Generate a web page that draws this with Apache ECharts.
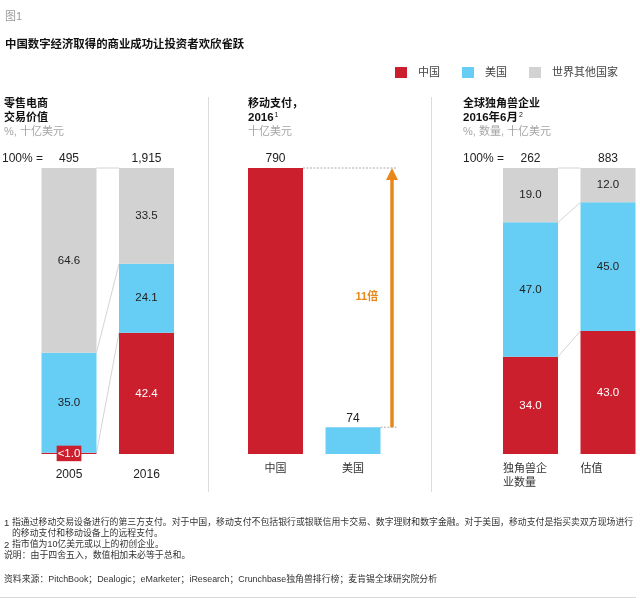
<!DOCTYPE html>
<html><head><meta charset="utf-8">
<style>html,body{margin:0;padding:0;background:#fff}#c{width:640px;height:598px}</style>
<script src="https://cdn.jsdelivr.net/npm/echarts@6/dist/echarts.min.js"></script>
</head><body><div id="c"></div>
<script>
// ---- data ----
var retailCats = ['2005', '2016'];
var retailTotals = ['495', '1,915'];
var retailChina = [0.4, 42.4];
var retailUS = [35.0, 24.1];
var retailRest = [64.6, 33.5];

var payCats = ['中国', '美国'];
var payChina = [790, null];
var payUS = [null, 74];

var uniCats = ['独角兽企\n业数量', '估值'];
var uniTotals = ['262', '883'];
var uniChina = [34.0, 43.0];
var uniUS = [47.0, 45.0];
var uniRest = [19.0, 12.0];

var seriesNames = ['中国', '美国', '世界其他国家'];

// ---- style ----
var RED = '#CB1F2E', BLUE = '#66CDF5', GREY = '#D2D2D2', ORANGE = '#E8881A';
var FONT = '"Liberation Sans","Noto Sans CJK SC",sans-serif';
var BAR_W = 55;

function cum(a, b, c) {
  return a.map(function (v, i) { return [v, v + b[i], v + b[i] + c[i]]; });
}
function grid(left) { return { left: left, width: 155, top: 168, height: 286, outerBoundsMode: 'none' }; }
function bar(name, idx, data, color, labelColor, fmt) {
  return {
    type: 'bar', name: name, stack: 's' + idx, xAxisIndex: idx, yAxisIndex: idx,
    data: data, barWidth: BAR_W, z: 3,
    itemStyle: { color: color },
    label: { show: true, position: 'inside', color: labelColor, fontSize: 11.5, fontFamily: FONT,
      formatter: fmt || function (p) { return Number(p.value).toFixed(1); } }
  };
}
function connectors(idx, stacks) {
  // one row per pair of boundaries between the two columns
  var rows = stacks[0].map(function (v, i) { return [v, stacks[1][i]]; });
  return {
    type: 'custom', xAxisIndex: idx, yAxisIndex: idx, z: 1, silent: true, clip: false,
    data: rows, encode: { y: [0, 1] },
    renderItem: function (params, api) {
      var a = api.coord([0, api.value(0)]), b = api.coord([1, api.value(1)]);
      return { type: 'line', shape: { x1: a[0] + BAR_W / 2, y1: a[1], x2: b[0] - BAR_W / 2, y2: b[1] },
        style: { stroke: '#d4d4d4', lineWidth: 1 } };
    }
  };
}
function text(x, y, t, size, color, bold, extra) {
  var s = { x: x, y: y, text: t, fontSize: size, fontFamily: FONT, fill: color,
    fontWeight: bold ? 'bold' : 'normal', verticalAlign: 'middle', align: 'left' };
  if (extra) for (var k in extra) s[k] = extra[k];
  return { type: 'text', style: s, z: 10 };
}
function divider(x) {
  return { type: 'line', shape: { x1: x, y1: 97, x2: x, y2: 492 }, style: { stroke: '#dcdcdc', lineWidth: 1 } };
}

var DARK = '#222', MUTED = '#a5a5a5', SUP = { sup: { fontSize: 7, fontWeight: 'normal', padding: [0, 0, 5, 1] } };

var retailStacks = cum(retailChina, retailUS, retailRest);
var uniStacks = cum(uniChina, uniUS, uniRest);

var option = {
  animation: false,
  backgroundColor: '#fff',
  textStyle: { fontFamily: FONT },
  grid: [grid(30.25), grid(236.75), grid(491.75)],
  legend: {
    left: 395, top: 67, padding: 0, itemWidth: 12, itemHeight: 11, itemGap: 22,
    data: seriesNames.map(function (n) { return { name: n, icon: 'rect' }; }),
    textStyle: { fontSize: 11, color: '#444', fontFamily: FONT, padding: [0, 0, 0, 6] },
    selectedMode: false
  },
  xAxis: [
    { gridIndex: 0, type: 'category', data: retailCats, axisLine: { show: false }, axisTick: { show: false },
      axisLabel: { margin: 15, fontSize: 12, color: DARK, fontFamily: FONT } },
    { gridIndex: 1, type: 'category', data: payCats, axisLine: { show: false }, axisTick: { show: false },
      axisLabel: { margin: 9, fontSize: 11, color: '#333', fontFamily: FONT } },
    { gridIndex: 2, type: 'category', data: uniCats, axisLine: { show: false }, axisTick: { show: false },
      axisLabel: { margin: 8, interval: 0, fontFamily: FONT,
        formatter: function (v) { return v.split('\n').map(function (l) { return '{a|' + l + '}'; }).join('\n'); },
        rich: { a: { width: BAR_W, align: 'left', fontSize: 11, color: '#333', lineHeight: 14, fontFamily: FONT } } } },
    { gridIndex: 0, type: 'category', position: 'top', data: retailTotals, axisLine: { show: false }, axisTick: { show: false },
      axisLabel: { margin: 3, fontSize: 12, color: DARK, fontFamily: FONT } },
    { gridIndex: 2, type: 'category', position: 'top', data: uniTotals, axisLine: { show: false }, axisTick: { show: false },
      axisLabel: { margin: 3, fontSize: 12, color: DARK, fontFamily: FONT } }
  ],
  yAxis: [
    { gridIndex: 0, type: 'value', min: 0, max: 100, show: false },
    { gridIndex: 1, type: 'value', min: 0, max: 790, show: false },
    { gridIndex: 2, type: 'value', min: 0, max: 100, show: false }
  ],
  series: [
    connectors(0, retailStacks),
    (function () {
      var s = bar(seriesNames[0], 0, retailChina.map(function (v, i) {
        return i === 0 ? { value: v, label: { backgroundColor: RED, color: '#fff', padding: [2, 1], fontSize: 11.5,
          formatter: '<1.0' } } : v;
      }), RED, '#fff');
      return s;
    })(),
    bar(seriesNames[1], 0, retailUS, BLUE, DARK),
    bar(seriesNames[2], 0, retailRest, GREY, DARK),

    (function () {
      var s = bar(seriesNames[0], 1, payChina, RED, DARK, function (p) { return String(p.value); });
      s.label.position = 'top'; s.label.fontSize = 12; s.label.distance = 3; return s;
    })(),
    (function () {
      var s = bar(seriesNames[1], 1, payUS, BLUE, DARK, function (p) { return String(p.value); });
      s.label.position = 'top'; s.label.fontSize = 12; s.label.distance = 3; return s;
    })(),
    {
      type: 'custom', xAxisIndex: 1, yAxisIndex: 1, z: 4, silent: true, clip: false,
      data: [[payUS[1], payChina[0]]], encode: { y: [0, 1] },
      renderItem: function (params, api) {
        var lo = api.coord([1, api.value(0)]), hi = api.coord([0, api.value(1)]);
        var ax = lo[0] + 39;
        return { type: 'group', children: [
          { type: 'line', shape: { x1: hi[0] + BAR_W / 2, y1: hi[1], x2: ax + 5, y2: hi[1] },
            style: { stroke: '#8a8a8a', lineWidth: 0.7, lineDash: [2, 1.5] } },
          { type: 'line', shape: { x1: lo[0] + BAR_W / 2, y1: lo[1], x2: ax + 5, y2: lo[1] },
            style: { stroke: '#8a8a8a', lineWidth: 0.7, lineDash: [2, 1.5] } },
          { type: 'line', shape: { x1: ax, y1: lo[1], x2: ax, y2: hi[1] + 10 },
            style: { stroke: ORANGE, lineWidth: 3.5 } },
          { type: 'polygon', shape: { points: [[ax, hi[1]], [ax + 6, hi[1] + 12], [ax - 6, hi[1] + 12]] },
            style: { fill: ORANGE } }
        ] };
      }
    },

    connectors(2, uniStacks),
    bar(seriesNames[0], 2, uniChina, RED, '#fff'),
    bar(seriesNames[1], 2, uniUS, BLUE, DARK),
    bar(seriesNames[2], 2, uniRest, GREY, DARK),

    // axis bindings for the top (total) axes
    { type: 'bar', xAxisIndex: 3, yAxisIndex: 0, data: [], silent: true },
    { type: 'bar', xAxisIndex: 4, yAxisIndex: 2, data: [], silent: true }
  ],
  graphic: [
    text(5, 17, '图1', 11, '#999'),
    text(5, 45, '中国数字经济取得的商业成功让投资者欢欣雀跃', 11.4, '#111', true),

    text(4, 103.5, '零售电商', 11, '#111', true),
    text(4, 117.5, '交易价值', 11, '#111', true),
    text(4, 131.5, '%, 十亿美元', 11, MUTED),
    text(2, 159, '100% =', 12, DARK),

    text(248, 103.5, '移动支付，', 11, '#111', true),
    text(248, 117.5, '2016{sup|1}', 11.5, '#111', true, { rich: SUP }),
    text(248, 131.5, '十亿美元', 11, MUTED),

    text(463, 103.5, '全球独角兽企业', 11, '#111', true),
    text(463, 117.5, '2016年6月{sup|2}', 11.5, '#111', true, { rich: SUP }),
    text(463, 131.5, '%, 数量, 十亿美元', 11, MUTED),
    text(463, 159, '100% =', 12, DARK),

    text(355.5, 297, '11倍', 11, ORANGE, true),

    divider(208.5), divider(431.5),

    text(4, 523, '1', 9.5, '#333'),
    text(12, 523, '指通过移动交易设备进行的第三方支付。对于中国，移动支付不包括银行或银联信用卡交易、数字理财和数字金融。对于美国，移动支付是指买卖双方现场进行', 8.9, '#333'),
    text(12, 534, '的移动支付和移动设备上的远程支付。', 8.9, '#333'),
    text(4, 545, '2', 9.5, '#333'),
    text(12, 545, '指市值为10亿美元或以上的初创企业。', 8.9, '#333'),
    text(4, 556, '说明：由于四舍五入，数值相加未必等于总和。', 8.9, '#333'),
    text(4, 580, '资料来源：PitchBook；Dealogic；eMarketer；iResearch；Crunchbase独角兽排行榜；麦肯锡全球研究院分析', 8.9, '#333'),
    { type: 'line', shape: { x1: 0, y1: 597.5, x2: 636, y2: 597.5 }, style: { stroke: '#d8d8d8', lineWidth: 1 } }
  ]
};
echarts.init(document.getElementById('c'), null, { renderer: 'canvas' }).setOption(option);
</script></body></html>
